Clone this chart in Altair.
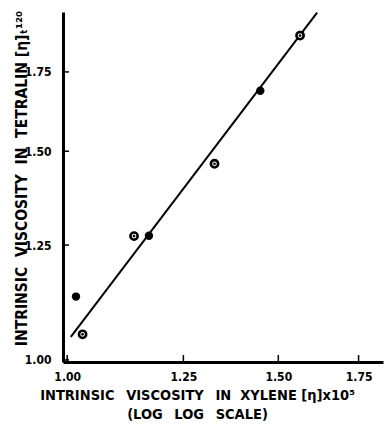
import altair as alt
import pandas as pd

# Data
xylene = [1.017, 1.030, 1.137, 1.170, 1.327, 1.449, 1.564]
tetralin = [1.131, 1.051, 1.272, 1.273, 1.464, 1.687, 1.878]
marker = ["filled", "ring", "ring", "filled", "ring", "filled", "ring"]
fit_x = [1.007, 1.616]
fit_y = [1.046, 1.964]
x_ticks = [1.00, 1.25, 1.50, 1.75]
y_ticks = [1.00, 1.25, 1.50, 1.75]

FONT = "'DejaVu Sans Condensed', 'DejaVu Sans', sans-serif"

W = " \u00a0"          # widened word gap
WW = " \u00a0\u2009"   # slightly wider gap

x_title = [
    "INTRINSIC" + WW + "VISCOSITY" + WW + "IN" + W + "XYLENE" + " " + "[η]x10⁵",
    "(LOG" + WW + "LOG" + WW + "SCALE)",
]
y_title = "INTRINSIC" + W + "VISCOSITY" + W + "IN" + W + "TETRALIN" + " " + "[η]ₜ¹²⁰"

pts = pd.DataFrame({"x": xylene, "y": tetralin, "m": marker})
fit = pd.DataFrame({"x": fit_x, "y": fit_y})
xt = pd.DataFrame({"x": x_ticks})
yt = pd.DataFrame({"y": y_ticks})

xscale = alt.Scale(type="log", domain=[0.992, 1.834], nice=False)
yscale = alt.Scale(type="log", domain=[0.996, 1.966], nice=False)

xaxis = alt.Axis(
    values=x_ticks, format=".2f", ticks=False, grid=False,
    domainColor="black", domainWidth=3,
    labelFont=FONT, labelFontSize=12, labelColor="black", labelPadding=9,
    labelFontWeight="bold",
    title=x_title,
    titleFont=FONT, titleFontSize=14.5, titleFontWeight="bold", titleColor="black",
    titleX=134, titleY=26, titleBaseline="top", titleAlign="center",
    titleLineHeight=19,
)
yaxis = alt.Axis(
    values=y_ticks, format=".2f", ticks=False, grid=False,
    domainColor="black", domainWidth=3,
    labelFont=FONT, labelFontSize=12, labelColor="black", labelPadding=12,
    labelFontWeight="bold",
    title=y_title,
    titleFont=FONT, titleFontSize=15.5, titleFontWeight="bold", titleColor="black",
    titleX=-42, titleY=166, titleBaseline="middle", titleAlign="center",
    titleAngle=270,
)

base_x = alt.X("x:Q", scale=xscale, axis=xaxis)
base_y = alt.Y("y:Q", scale=yscale, axis=yaxis)

line = alt.Chart(fit).mark_line(color="black", strokeWidth=2).encode(x=base_x, y=base_y)

filled = alt.Chart(pts).transform_filter(alt.datum.m == "filled").mark_circle(
    color="black", opacity=1, size=70
).encode(x="x:Q", y="y:Q")

rings = alt.Chart(pts).transform_filter(alt.datum.m == "ring").mark_point(
    shape="circle", filled=True, fill="white", stroke="black", strokeWidth=2.6,
    opacity=1, size=52
).encode(x="x:Q", y="y:Q")

ring_dots = alt.Chart(pts).transform_filter(alt.datum.m == "ring").mark_circle(
    color="black", opacity=1, size=7
).encode(x="x:Q", y="y:Q")

xtick_marks = alt.Chart(xt).mark_rule(color="black", strokeWidth=1.5).encode(
    x="x:Q", y=alt.value(350), y2=alt.value(343)
)
ytick_marks = alt.Chart(yt).mark_rule(color="black", strokeWidth=1.5).encode(
    y="y:Q", x=alt.value(0), x2=alt.value(6)
)

chart = alt.layer(line, xtick_marks, ytick_marks, filled, rings, ring_dots).properties(
    width=320, height=350,
    autosize=alt.AutoSizeParams(type="none"),
    padding={"left": 63, "top": 12, "right": 4, "bottom": 62},
    background="white",
).configure_view(stroke=None)

chart.save("out.html", embed_options={"renderer": "svg", "actions": False})
